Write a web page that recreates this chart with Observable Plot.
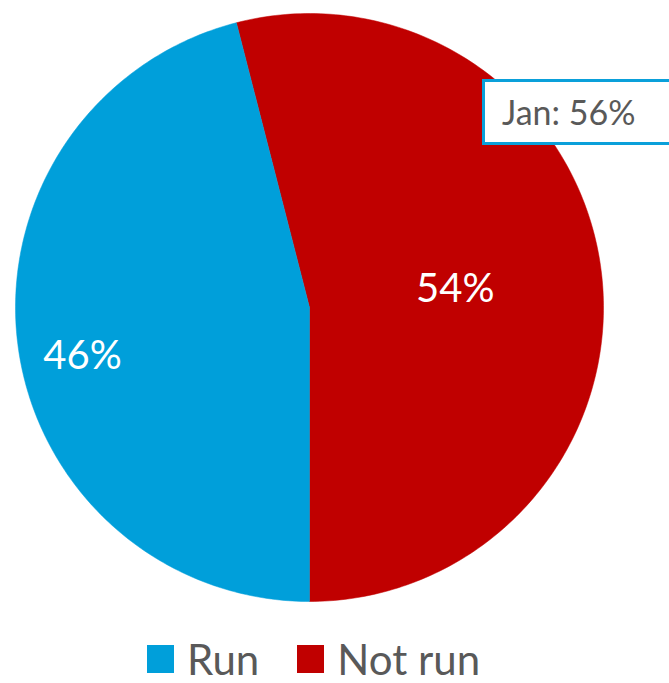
<!DOCTYPE html>
<html>
<head>
<meta charset="utf-8">
<script src="https://cdn.jsdelivr.net/npm/d3@7"></script>
<script src="https://cdn.jsdelivr.net/npm/@observablehq/plot@0.6"></script>
<style>
  html, body { margin: 0; padding: 0; background: #fff; overflow: hidden; width: 669px; height: 683px; }
  #wrap { position: relative; width: 669px; height: 683px; font-family: Lato, "Open Sans", sans-serif; }
  #callout { position: absolute; left: 482px; top: 79px; width: 210px; height: 66px; border: 3px solid #0AA0DA; background: #fff; box-sizing: border-box; }
  #callout span { position: absolute; left: 17px; top: 9px; font-size: 34px; color: #595959; }
  #legend { position: absolute; left: 147px; top: 637px; display: flex; align-items: center; font-size: 42px; line-height: 44px; color: #595959; white-space: nowrap; }
  .sw { display: inline-block; width: 27px; height: 28px; margin-right: 13px; }
  .item { display: flex; align-items: center; margin-right: 38px; }
</style>
</head>
<body>
<div id="wrap">
  <div id="chart"></div>
  <div id="callout"><span></span></div>
  <div id="legend"></div>
</div>
<script>
const categories = ["Not run", "Run"];
const values = [54, 46];
const colors = ["#C00000", "#009FDA"];
const calloutText = "Jan: 56%";

const startAngle = -(values[0] - 50) / 100 * 2 * Math.PI;
const arcs = d3.pie().sort(null).startAngle(startAngle).endAngle(startAngle + 2 * Math.PI)(values);

// polygon outline of each slice in unit coordinates (x right, y up)
const outline = [];
arcs.forEach((a, i) => {
  outline.push({key: categories[i], x: 0, y: 0});
  const n = 200;
  for (let k = 0; k <= n; k++) {
    const t = a.startAngle + (a.endAngle - a.startAngle) * k / n;
    outline.push({key: categories[i], x: Math.sin(t), y: Math.cos(t)});
  }
  outline.push({key: categories[i], x: 0, y: 0});
});

const labelRadius = [0.5, 0.79];
const labelShift = [0, -0.087];
const labels = arcs.map((a, i) => {
  const t = (a.startAngle + a.endAngle) / 2 + labelShift[i];
  return {key: categories[i], text: values[i] + "%", x: labelRadius[i] * Math.sin(t), y: labelRadius[i] * Math.cos(t)};
});

const cx = 309, cy = 307, r = 294;
const plot = Plot.plot({
  width: 669,
  height: 630,
  margin: 0,
  x: {domain: [-1, 1], range: [cx - r, cx + r], axis: null},
  y: {domain: [-1, 1], range: [cy + r, cy - r], axis: null},
  color: {domain: categories, range: colors},
  style: {fontFamily: "Lato, 'Open Sans', sans-serif", background: "white"},
  marks: [
    Plot.line(outline, {x: "x", y: "y", z: "key", fill: "key", stroke: "key", strokeWidth: 0.5, curve: "linear"}),
    Plot.text(labels, {x: "x", y: "y", text: "text", fill: "white", fontSize: 40, textAnchor: "middle", dy: 0})
  ]
});
document.getElementById("chart").appendChild(plot);

document.querySelector("#callout span").textContent = calloutText;

const legend = document.getElementById("legend");
[1, 0].forEach(i => {
  const item = document.createElement("div");
  item.className = "item";
  const sw = document.createElement("span");
  sw.className = "sw";
  sw.style.background = colors[i];
  item.appendChild(sw);
  item.appendChild(document.createTextNode(categories[i]));
  legend.appendChild(item);
});
</script>
</body>
</html>
